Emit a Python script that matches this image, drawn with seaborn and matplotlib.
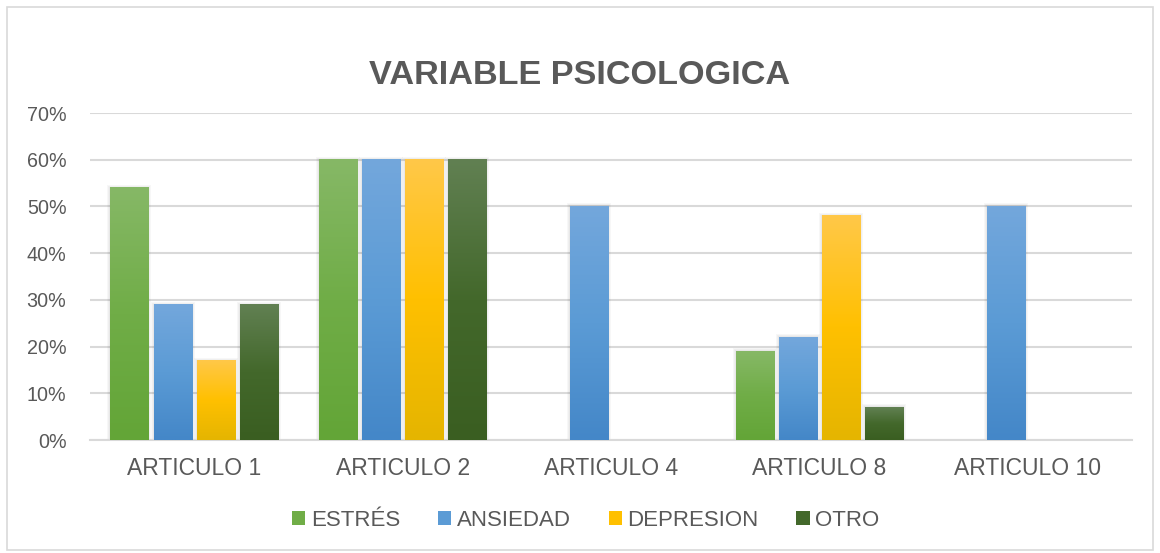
import numpy as np
import pandas as pd
import matplotlib
matplotlib.use('Agg')
import matplotlib.pyplot as plt
from matplotlib.colors import LinearSegmentedColormap
from matplotlib.patches import Rectangle, Patch
import seaborn as sns

sns.set_theme(style="white")
plt.rcParams['font.family'] = ['Liberation Sans', 'DejaVu Sans']

# data (percent)
articulos = ["ARTICULO 1", "ARTICULO 2", "ARTICULO 4", "ARTICULO 8", "ARTICULO 10"]
series = ["ESTRÉS", "ANSIEDAD", "DEPRESION", "OTRO"]
estres = [54, 60, 0, 19, 0]
ansiedad = [29, 60, 50, 22, 50]
depresion = [17, 60, 0, 48, 0]
otro = [29, 60, 0, 7, 0]

# gradient colours (top, middle, bottom) per series
grad = {
    "ESTRÉS": ["#86B866", "#70AD47", "#63A537"],
    "ANSIEDAD": ["#73A7DC", "#5B9BD5", "#4487C8"],
    "DEPRESION": ["#FFC848", "#FFC000", "#E5B500"],
    "OTRO": ["#618052", "#43682B", "#3A5E21"],
}
solid = {k: v[1] for k, v in grad.items()}

df = pd.DataFrame({
    "articulo": np.repeat(articulos, len(series)),
    "serie": series * len(articulos),
    "valor": np.array([estres, ansiedad, depresion, otro]).T.ravel() / 100.0,
})

fig = plt.figure(figsize=(11.6, 5.53), dpi=100)
ax = fig.add_axes([90 / 1160, 113 / 553, (1132 - 90) / 1160, (440 - 113) / 553])

sns.barplot(data=df, x="articulo", y="valor", hue="serie", order=articulos,
            hue_order=series, palette=solid, width=0.83, gap=0.12,
            linewidth=0, legend=False, ax=ax, zorder=3)

px_x = 5 / 1042
px_y = 0.7 / 327

# vertical gradient on every bar, with a soft shadow
for cont, name in zip(ax.containers, series):
    cmap = LinearSegmentedColormap.from_list(name, grad[name][::-1])
    for p in cont.patches:
        h = p.get_height()
        if h <= 0:
            p.set_visible(False)
            continue
        x0, w = p.get_x(), p.get_width()
        p.set_linewidth(0)
        p.set_edgecolor("none")
        for k in (1, 2, 3):
            ax.add_patch(Rectangle((x0 - k * px_x, 0), w + 2 * k * px_x,
                                   h + k * px_y, color="#000000", alpha=0.03,
                                   lw=0, zorder=2))
        ax.imshow(np.linspace(0, 1, 100).reshape(-1, 1), cmap=cmap,
                  origin="lower", aspect="auto", interpolation="bilinear",
                  extent=[x0, x0 + w, 0, h], zorder=3.5)

ax.set_xlim(-0.5, len(articulos) - 0.5)
ax.set_ylim(0, 0.70)
ax.set_yticks(np.arange(0, 0.71, 0.10))
ax.set_yticklabels([f"{int(round(v * 100))}%" for v in np.arange(0, 0.71, 0.10)])
ax.yaxis.grid(True, color="#D9D9D9", linewidth=1.5, zorder=0)
ax.set_axisbelow(True)
for s in ["top", "right", "left"]:
    ax.spines[s].set_visible(False)
ax.spines["bottom"].set_color("#D9D9D9")
ax.spines["bottom"].set_linewidth(1.5)
ax.tick_params(axis="both", length=0, colors="#595959")
ax.tick_params(axis="x", labelsize=16.5, pad=12)
ax.tick_params(axis="y", labelsize=14.2, pad=17)
ax.set_xlabel("")
ax.set_ylabel("")

fig.text(0.5, 1 - 75 / 553, "VARIABLE PSICOLOGICA", ha="center", va="center",
         fontsize=24.7, fontweight="bold", color="#595959")

handles = [Patch(facecolor=solid[s], edgecolor="none") for s in series]
fig.legend(handles, series, loc="center", bbox_to_anchor=(0.505, 1 - 520 / 553),
           ncol=4, frameon=False, fontsize=16, labelcolor="#595959",
           handlelength=0.6, handleheight=0.6, handletextpad=0.25,
           columnspacing=1.7)

# chart border
fig.patches.append(Rectangle((0.006, 0.006), 0.988, 0.982, transform=fig.transFigure,
                             fill=False, edgecolor="#D9D9D9", linewidth=1.2))

fig.savefig("out.png", dpi=100, facecolor="white")
